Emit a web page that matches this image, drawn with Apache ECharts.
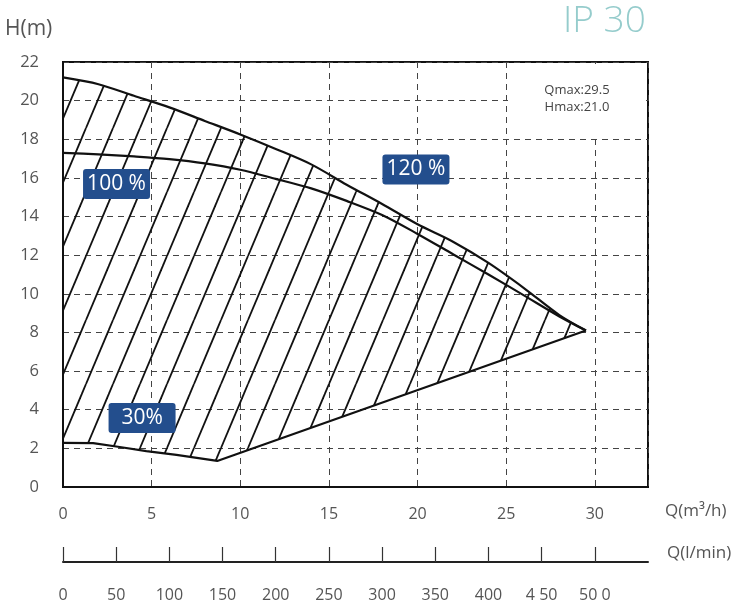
<!DOCTYPE html>
<html>
<head>
<meta charset="utf-8">
<script src="https://cdn.jsdelivr.net/npm/echarts@6/dist/echarts.min.js"></script>
<style>
html,body{margin:0;padding:0;background:#fff;}
#chart{width:741px;height:610px;}
</style>
</head>
<body>
<div id="chart"></div>
<script>
// ---- data ----
var upperQ = [0, 2, 4, 6, 8, 10, 12, 14, 16, 18, 20, 22, 24, 26, 28, 29.5];
var upperH = [21.2, 20.85, 20.25, 19.65, 18.95, 18.25, 17.5, 16.7, 15.65, 14.65, 13.6, 12.7, 11.6, 10.3, 8.9, 8.1];
var midQ = [0, 2, 4, 6, 8, 10, 12, 14, 16, 18, 20, 22, 24, 26, 28, 29.5];
var midH = [17.3, 17.22, 17.11, 16.97, 16.75, 16.42, 15.95, 15.46, 14.81, 14.08, 13.1, 12.05, 11.0, 9.92, 8.83, 8.1];
var lowQ = [0, 1.7, 3.2, 4.7, 6.4, 8.7, 29.5];
var lowH = [2.28, 2.27, 2.07, 1.86, 1.66, 1.35, 8.1];
var labelQ = [3.02, 19.91, 4.46];
var labelH = [15.68, 16.44, 3.57];
var labelText = ['100 %', '120 %', '30%'];
var qTicks = [0, 5, 10, 15, 20, 25, 30];
var hTicks = [0, 2, 4, 6, 8, 10, 12, 14, 16, 18, 20, 22];
var lminTicks = [0, 50, 100, 150, 200, 250, 300, 350, 400, 450, 500];
var lminLabels = ['0', '50', '100', '150', '200', '250', '300', '350', '400', '4 50', '50 0'];
var titleText = 'IP 30';
var infoLines = ['Qmax:29.5', 'Hmax:21.0'];

function zip(a, b) { return a.map(function (v, i) { return [v, b[i]]; }); }

// hatch pattern tile
var W = 27, Ht = 64, c0 = 5;
var tile = document.createElement('canvas');
tile.width = W; tile.height = Ht;
var tc = tile.getContext('2d');
tc.strokeStyle = '#111';
tc.lineWidth = 1.8;
for (var k = -1; k <= 2; k++) {
  tc.beginPath();
  tc.moveTo(c0 + k * W, 0);
  tc.lineTo(c0 + (k - 1) * W, Ht);
  tc.stroke();
}

var FONT = 'Open Sans';
var chart = echarts.init(document.getElementById('chart'), null, {renderer: 'canvas'});
var option = {
  animation: false,
  backgroundColor: '#fff',
  textStyle: {fontFamily: FONT},
  grid: {left: 63, right: 93, top: 62, bottom: 123, show: true, borderColor: '#111', borderWidth: 2, backgroundColor: 'transparent'},
  xAxis: [{
    type: 'value', min: 0, max: 33, interval: 5,
    axisLine: {show: true, onZero: false, lineStyle: {color: '#111', width: 2}},
    axisTick: {show: false},
    axisLabel: {customValues: qTicks, color: '#555', fontSize: 16, fontFamily: FONT, margin: 19},
    splitLine: {show: true, lineStyle: {color: '#444', width: 1, type: [6, 5]}}
  }, {
    type: 'value', min: 0, max: 550, interval: 50, position: 'bottom', offset: 75,
    axisLine: {show: true, onZero: false, lineStyle: {color: '#222', width: 2}},
    axisTick: {show: true, inside: true, length: 15, customValues: lminTicks, lineStyle: {color: '#333', width: 1.2}},
    axisLabel: {customValues: lminTicks, color: '#555', fontSize: 16, fontFamily: FONT, margin: 25,
      formatter: function (v) { var i = lminTicks.indexOf(v); return i >= 0 ? lminLabels[i] : ''; }},
    splitLine: {show: false}
  }],
  yAxis: {
    type: 'value', min: 0, max: 22, interval: 2,
    axisLine: {show: true, onZero: false, lineStyle: {color: '#111', width: 2}},
    axisTick: {show: false},
    axisLabel: {customValues: hTicks, color: '#555', fontSize: 16.5, fontFamily: FONT, margin: 24},
    splitLine: {show: true, lineStyle: {color: '#444', width: 1, type: [6, 5]}}
  },
  graphic: [
    {type: 'text', left: 5, top: 19, z: 10, style: {text: 'H(m)', fill: '#555', font: '21px "Open Sans"'}},
    {type: 'text', left: 563, top: 3, z: 10, style: {text: titleText, fill: '#95cccc', font: '300 37px "Open Sans"'}},
    {type: 'rect', shape: {x: 508, y: 64, width: 138, height: 71}, z: 10, style: {fill: '#fff'}},
    {type: 'text', x: 577, y: 82, z: 11, style: {text: infoLines.join('\n'), fill: '#444', font: '13px "Open Sans"', lineHeight: 17, align: 'center'}},
    {type: 'text', left: 665, top: 503, z: 10, style: {text: 'Q(m³/h)', fill: '#555', font: '17px "Open Sans"'}},
    {type: 'text', left: 667, top: 545, z: 10, style: {text: 'Q(l/min)', fill: '#555', font: '17px "Open Sans"'}}
  ],
  series: [
    {
      type: 'custom', xAxisIndex: 0, yAxisIndex: 0, z: 1, silent: true,
      data: [[0, 0]],
      renderItem: function (params, api) {
        var pts = [];
        upperQ.forEach(function (q, i) { pts.push(api.coord([q, upperH[i]])); });
        for (var i = lowQ.length - 1; i >= 0; i--) pts.push(api.coord([lowQ[i], lowH[i]]));
        return {type: 'polygon', shape: {points: pts}, style: {fill: {image: tile, repeat: 'repeat'}, stroke: null}};
      }
    },
    {type: 'line', data: zip(upperQ, upperH), smooth: 0.3, symbol: 'none', z: 3, lineStyle: {color: '#111', width: 2.2}},
    {type: 'line', data: zip(midQ, midH), smooth: 0.3, symbol: 'none', z: 3, lineStyle: {color: '#111', width: 2.2}},
    {type: 'line', data: zip(lowQ, lowH), smooth: false, symbol: 'none', z: 3, lineStyle: {color: '#111', width: 2.2}},
    {
      type: 'scatter', z: 5, symbolSize: 0, silent: true,
      itemStyle: {opacity: 1},
      data: labelQ.map(function (q, i) { return {value: [q, labelH[i]], name: labelText[i]}; }),
      label: {show: true, position: 'inside', formatter: '{b}', color: '#fff', fontSize: 21, fontFamily: FONT,
        backgroundColor: '#234e8d', borderRadius: 3, width: 59, align: 'center', verticalAlign: 'middle', lineHeight: 20, padding: [5, 4]}
    }
  ]
};
chart.setOption(option);
</script>
</body>
</html>
